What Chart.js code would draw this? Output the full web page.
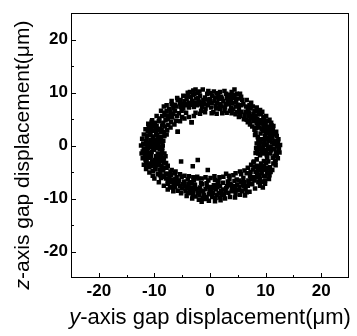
<!DOCTYPE html>
<html><head><meta charset="utf-8">
<script src="https://cdn.jsdelivr.net/npm/chart.js@4/dist/chart.umd.min.js"></script>
<style>html,body{margin:0;padding:0;background:#fff}</style>
</head><body>
<canvas id="c" width="357" height="336"></canvas>
<script>
// y-axis gap (x) and z-axis gap (y) readings, grouped by sector of the orbit
const ringRight = [[12.3,-0.8],[11.9,0.5],[11.6,-1.9],[11.2,1.4],[10.9,-0.2],[10.5,0.9],[10.1,-1.2],[9.6,0.3],[9.2,-0.6],[8.7,0.8],[11.8,-2.8],[12.0,1.8],[10.7,2.2],[9.9,1.9],[9.0,-1.8],[8.5,-0.9],[10.3,-2.4],[11.4,-3.4],[12.1,-0.1],[9.4,1.2],[10.8,-1.5],[11.5,0.2],[8.9,0.1],[9.7,-2.9],
  [11.7,0.9],[10.4,-0.5],[9.8,0.6],[11.0,-0.9],[12.2,0.8],[10.0,1.3],[11.3,-2.3],[9.3,-1.1],[10.6,1.5],[8.8,-0.3],[11.9,-1.3],[10.2,-1.8],
  [11.1,0.6],[10.2,0.1],[9.5,-0.4],[12.4,-0.5],[11.5,-0.7],[10.7,-0.6],[9.9,-0.9],[11.3,2.1],[10.1,2.4],[12.0,-1.7],[9.1,0.7],[10.5,-3.0],[11.8,-3.7],[8.7,-1.5],[10.9,1.1],[9.6,-1.5],
  [8.4,0.4],[8.3,-0.5],[8.6,1.6],[8.2,-1.4],[8.1,2.0],[8.4,-2.6],[7.9,-3.0],
  [12.6,0.1],[12.5,-1.3],[12.3,1.2],[12.2,-2.4],[11.9,2.6],[11.7,-3.1]];
const ringUpperRight = [[11.3,2.9],[10.6,3.6],[10.0,4.1],[9.5,2.8],[8.8,3.4],[8.2,2.4],[11.0,4.3],[9.2,4.8],[8.4,4.2],[10.2,2.7],[9.8,5.2],[8.0,3.0],[10.9,3.2],[7.8,4.6],
  [10.4,3.2],[9.6,3.6],[10.8,2.5],[9.1,2.3],[8.6,3.8],[11.5,2.4],[9.9,4.6],
  [9.6,5.4],[8.8,6.0],[8.0,6.5],[7.4,5.2],[6.8,6.9],[6.2,5.8],[7.7,7.4],[8.5,5.1],[6.0,7.8],[5.6,6.4],[7.1,4.6],[5.2,5.4],[9.0,6.7],[6.6,4.9],
  [8.2,5.7],[7.8,6.0],[7.0,6.2],[9.2,5.9],[8.3,4.7],[6.4,6.4],[7.3,7.0],
  [10.5,4.6],[9.3,3.2],[8.9,4.5],[10.0,3.4],[11.1,3.8],[8.3,3.3],[7.6,5.6],[8.6,6.6],[7.1,7.6],[6.5,7.4],[6.9,5.6],[9.4,4.2],[7.9,5.3],
  [7.6,3.6],[7.2,4.0],[6.8,4.4],[6.1,5.0],[5.4,5.6],[4.6,5.9],[3.9,6.1],
  [11.4,3.7],[10.7,4.9],[10.1,5.6],[9.4,6.4],[8.4,7.2],[7.4,8.1],[6.6,8.6]];
const ringTop = [[5.8,8.6],[5.0,7.7],[4.4,9.0],[3.8,7.2],[3.2,8.4],[2.6,6.6],[4.9,6.3],[3.5,9.6],[2.8,7.8],[4.2,6.8],[5.4,9.8],[4.4,10.6],[2.0,9.2],[3.0,6.2],
  [4.7,8.2],[4.0,8.0],[3.4,7.8],[5.2,7.1],[2.4,8.4],[3.8,8.8],[5.6,7.6],
  [1.6,8.8],[1.0,7.5],[0.4,9.4],[-0.2,8.2],[-0.8,7.0],[0.6,6.3],[1.8,6.9],[-0.5,9.8],[0.0,8.8],[1.2,9.9],[2.6,10.3],[-1.3,10.6],[1.3,8.1],[-1.2,8.6],[0.2,7.2],
  [0.8,8.4],[1.9,7.8],[-0.4,7.6],[0.3,8.1],[1.5,9.3],[-0.9,9.1],[2.2,8.9],
  [-1.8,9.4],[-2.3,7.6],[-2.8,9.8],[-3.2,8.4],[-1.6,6.6],[-3.6,10.1],[-2.6,6.2],[-3.8,7.2],[-2.0,8.3],[-4.1,9.3],[-3.0,10.4],[-1.4,7.3],
  [-2.5,8.9],[-1.9,7.8],[-3.4,9.2],[-2.9,7.3],[-3.8,8.1],[-2.2,10.0],
  [4.6,7.4],[3.6,6.6],[3.1,9.0],[2.7,7.2],[4.1,9.5],[5.0,8.9],[1.1,7.0],[0.1,9.9],[-0.6,8.7],[1.7,7.3],[0.9,9.1],[2.0,7.4],[-1.0,7.9],[-2.1,9.0],[-2.7,8.1],[-3.1,9.6],[-1.5,8.1],[-3.3,7.7],
  [2.2,6.1],[1.2,6.0],[0.3,6.1],[-0.9,6.3],[-1.8,6.0],[-2.9,5.6],[-3.8,5.4],
  [5.6,9.2],[4.8,9.8],[3.9,10.1],[2.9,9.8],[1.8,10.1],[0.7,10.2],[-0.3,10.3],[-1.9,10.2],[-2.6,10.6],[-4.0,10.0]];
const ringUpperLeft = [[-4.6,8.4],[-5.2,7.3],[-5.8,8.6],[-4.3,6.2],[-6.3,6.6],[-6.9,7.8],[-5.0,5.4],[-7.3,5.6],[-6.1,4.7],[-7.8,6.5],[-8.3,7.4],[-4.8,7.0],[-5.6,6.1],[-7.0,4.4],[-8.0,4.8],[-6.6,7.1],[-3.3,4.4],[-5.8,2.6],[-4.0,7.8],
  [-5.4,8.0],[-6.0,7.4],[-6.6,6.0],[-7.4,6.9],[-5.1,6.6],[-7.6,5.0],[-6.8,5.3],[-4.5,7.6],[-8.6,5.6],
  [-8.6,3.8],[-9.2,4.6],[-9.8,3.1],[-10.4,3.9],[-8.3,2.6],[-11.0,3.3],[-9.5,2.0],[-10.7,2.4],[-8.8,1.6],[-9.9,4.3],[-11.3,1.9],[-8.1,3.6],[-10.2,1.4],[-7.8,2.1],
  [-9.0,3.2],[-9.6,3.7],[-10.1,2.8],[-8.9,2.5],[-10.6,3.1],[-9.3,1.4],[-8.4,4.3],
  [-4.2,8.8],[-4.9,7.8],[-5.3,8.6],[-6.3,7.7],[-7.1,6.3],[-7.9,5.7],[-5.9,5.6],[-8.2,6.2],[-9.1,5.1],[-9.4,3.0],[-10.0,3.6],[-10.8,2.0],[-8.7,3.0],[-9.7,2.4],[-10.5,4.5],[-11.2,2.7],
  [-4.6,5.1],[-5.4,4.6],[-6.4,4.0],[-7.1,3.4],[-7.7,2.9],[-8.2,1.8],[-7.5,3.9],
  [-4.8,9.4],[-5.9,9.0],[-6.9,8.4],[-7.8,7.6],[-8.8,6.6],[-9.6,5.6],[-10.4,4.8],[-11.1,4.1],[-11.6,3.1]];
const ringLeft = [[-11.9,-0.6],[-11.5,0.8],[-11.0,-1.4],[-10.6,0.3],[-10.1,-0.8],[-9.6,1.1],[-9.2,-0.2],[-8.7,0.6],[-11.7,-1.9],[-10.3,1.7],[-9.4,-1.5],[-8.6,-1.0],[-11.2,0.1],[-10.0,0.7],[-12.0,0.4],[-8.9,1.5],[-10.8,-2.3],[-9.7,-2.0],
  [-11.1,-0.4],[-10.4,-0.2],[-9.9,0.2],[-11.4,1.2],[-10.7,1.0],[-9.0,-0.7],[-11.6,-1.1],[-10.5,-1.2],[-9.4,0.5],[-8.5,0.0],
  [-11.4,-2.9],[-10.7,-3.4],[-10.0,-2.7],[-9.4,-3.6],[-8.6,-2.4],[-10.9,-4.1],[-9.1,-4.5],[-8.3,-3.2],[-10.3,-4.8],[-8.0,-2.0],[-11.1,-3.7],[-9.7,-3.1],
  [-10.4,-3.0],[-9.8,-3.9],[-9.0,-2.8],[-10.1,-3.5],[-8.7,-3.8],[-11.0,-2.2],[-9.3,-2.2],
  [-11.8,0.2],[-11.3,-0.6],[-10.9,0.5],[-10.2,-0.4],[-9.7,-0.5],[-9.1,0.9],[-11.5,-1.6],[-10.3,1.0],[-8.8,-1.8],[-12.1,-1.1],[-10.6,-2.0],[-11.6,-2.6],[-9.6,-2.6],[-10.5,-3.8],[-9.2,-3.1],[-11.5,-3.3],[-8.4,-2.9],[-9.9,-4.5],
  [-8.4,0.9],[-8.6,-0.4],[-8.2,-1.5],[-8.3,-2.4],[-7.9,-3.3],[-7.6,-3.8],[-8.1,-4.2],
  [-11.9,2.1],[-12.2,1.3],[-12.4,0.0],[-12.3,-1.5],[-12.1,-2.4],[-11.9,-3.6],[-11.5,-4.4]];
const ringLowerLeft = [[-9.4,-5.4],[-8.8,-6.1],[-8.0,-5.3],[-7.6,-6.7],[-7.0,-5.5],[-6.5,-7.3],[-6.0,-6.0],[-5.4,-7.6],[-5.1,-5.9],[-7.2,-7.8],[-8.4,-4.6],[-6.2,-4.9],[-5.8,-8.5],[-7.8,-4.2],[-10.3,-5.7],[-7.0,-7.9],[-4.7,-6.8],[-6.8,-6.4],
  [-8.5,-5.8],[-7.9,-6.2],[-7.3,-6.1],[-6.6,-6.8],[-8.9,-5.0],[-6.1,-7.0],[-7.5,-5.3],[-5.6,-6.6],
  [-4.4,-8.6],[-3.9,-7.3],[-3.4,-9.0],[-2.9,-6.6],[-2.4,-8.2],[-1.9,-9.3],[-3.2,-7.9],[-4.0,-6.4],[-1.6,-7.1],[-2.6,-9.6],[-3.6,-8.5],[-2.1,-6.2],
  [-3.8,-8.0],[-3.0,-8.6],[-2.7,-7.4],[-4.6,-7.7],[-2.2,-8.9],[-3.6,-6.9],
  [-9.0,-5.6],[-8.2,-5.9],[-7.6,-7.2],[-6.9,-6.9],[-6.3,-7.8],[-5.7,-7.2],[-4.9,-7.3],[-7.1,-5.0],[-8.6,-4.3],[-5.0,-8.1],[-4.2,-7.9],[-3.3,-7.1],[-2.6,-8.2],[-1.8,-7.9],[-4.0,-8.9],[-3.1,-9.3],[-6.2,-6.3],
  [-6.9,-4.6],[-6.3,-5.2],[-5.4,-5.4],[-4.6,-5.7],[-3.8,-5.8],[-3.0,-6.0],[-2.3,-5.9],
  [-10.9,-5.1],[-10.0,-6.2],[-9.2,-6.9],[-8.3,-7.6],[-7.6,-8.3],[-6.6,-8.6],[-5.2,-9.0],[-4.2,-9.5],[-3.2,-10.0]];
const ringBottom = [[-1.2,-8.6],[-0.6,-9.7],[0.0,-7.8],[0.5,-8.9],[1.0,-9.9],[1.4,-7.2],[2.0,-8.5],[2.5,-9.4],[-0.3,-6.6],[0.9,-6.5],[2.3,-7.0],[-0.9,-10.1],[1.8,-9.8],[0.3,-9.3],[-1.4,-7.3],[2.9,-8.0],
  [-0.8,-8.2],[0.2,-8.5],[1.1,-8.3],[1.6,-9.0],[-0.2,-9.1],[0.7,-7.5],[2.4,-8.3],[1.3,-7.8],[-1.7,-8.5],
  [-0.5,-7.8],[0.4,-9.7],[1.2,-9.3],[2.1,-9.2],[-1.1,-9.4],[0.0,-8.4],[1.8,-7.6],[2.8,-8.6],[0.6,-8.1],[-0.6,-7.1],[1.5,-6.7],[-1.3,-9.9],
  [-1.5,-6.2],[-0.8,-6.0],[0.1,-6.1],[0.8,-5.8],[1.7,-6.0],[2.4,-5.9],[3.4,-5.7],
  [-2.0,-10.2],[-1.5,-10.6],[-0.2,-10.4],[0.9,-10.5],[1.9,-10.3],[2.7,-10.0],[3.6,-9.7]];
const ringLowerRight = [[3.3,-8.9],[3.8,-7.5],[4.3,-8.4],[4.8,-6.4],[5.3,-7.8],[5.8,-8.6],[6.2,-6.9],[6.8,-7.6],[7.2,-5.8],[4.2,-5.6],[5.6,-5.4],[7.6,-7.3],[3.5,-6.3],[6.6,-8.8],[2.9,-5.3],[4.6,-9.2],
  [4.0,-8.0],[4.9,-7.4],[5.6,-6.9],[6.1,-7.7],[3.6,-7.2],[6.9,-6.6],[5.0,-8.4],[7.4,-6.4],
  [8.0,-6.6],[8.5,-5.2],[9.0,-6.3],[9.5,-4.6],[10.0,-5.8],[10.4,-4.2],[8.4,-3.8],[9.2,-3.4],[10.6,-6.3],[9.5,-7.9],[7.7,-4.5],[10.9,-5.0],[8.7,-6.9],[10.1,-3.3],[9.9,-7.2],
  [8.8,-5.6],[9.3,-5.2],[8.2,-5.0],[9.8,-4.3],[8.6,-4.4],[10.3,-5.2],[9.0,-4.0],
  [3.1,-7.7],[3.9,-8.6],[4.5,-7.7],[5.2,-6.6],[5.9,-7.4],[6.4,-8.2],[7.0,-7.2],[7.8,-6.0],[4.4,-6.7],[6.0,-6.1],[3.2,-6.8],[8.3,-6.0],[8.9,-4.7],[9.6,-5.7],[10.2,-4.6],[10.8,-4.1],[8.0,-4.1],[9.4,-6.8],[7.3,-5.0],[9.7,-3.8],
  [4.6,-5.2],[5.4,-4.9],[6.2,-4.7],[6.8,-4.2],[7.4,-3.6],[7.8,-3.2],[6.6,-5.2],
  [4.5,-9.8],[5.4,-9.3],[6.3,-9.4],[7.1,-8.7],[8.1,-8.1],[9.0,-7.6],[9.9,-6.6],[10.7,-5.6],[11.2,-4.6]];
const strayInside = [[-5.2,-3.0],[-2.2,-2.7],[-3.1,-3.9],[-0.4,-4.6],[-5.8,2.6],[-3.3,4.4]];

const tickValues = [-20, -10, 0, 10, 20];
const tickMarks = [-20, -15, -10, -5, 0, 5, 10, 15, 20];
const xTitle = ['y', '-axis gap displacement(\u03bcm)'];
const yTitle = ['z', '-axis gap displacement(\u03bcm)'];

const points = [].concat(ringRight, ringUpperRight, ringTop, ringUpperLeft, ringLeft, ringLowerLeft, ringBottom, ringLowerRight, strayInside)
  .map(p => ({x: p[0], y: p[1]}));

const FAMILY = '"Liberation Sans", Arial, Helvetica, sans-serif';

function drawTitle(ctx, parts, size) {
  ctx.font = 'italic ' + size + 'px ' + FAMILY;
  const w0 = ctx.measureText(parts[0]).width;
  ctx.font = size + 'px ' + FAMILY;
  const w1 = ctx.measureText(parts[1]).width;
  const start = -(w0 + w1) / 2;
  ctx.textBaseline = 'middle';
  ctx.textAlign = 'left';
  ctx.font = 'italic ' + size + 'px ' + FAMILY;
  ctx.fillText(parts[0], start, 0);
  ctx.font = size + 'px ' + FAMILY;
  ctx.fillText(parts[1], start + w0, 0);
}

const framePlugin = {
  id: 'frame',
  afterDraw(chart) {
    const {ctx, chartArea: a, scales} = chart;
    ctx.save();
    ctx.strokeStyle = '#000';
    ctx.lineWidth = 1;
    ctx.strokeRect(Math.round(a.left) + 0.5, Math.round(a.top) + 0.5, Math.round(a.right - a.left) - 1, Math.round(a.bottom - a.top) - 1);
    ctx.beginPath();
    tickMarks.forEach(v => {
      const len = v % 10 === 0 ? 5 : 3;
      const px = Math.round(scales.x.getPixelForValue(v)) + 0.5;
      ctx.moveTo(px, a.bottom);
      ctx.lineTo(px, a.bottom - len);
      const py = Math.round(scales.y.getPixelForValue(v)) + 0.5;
      ctx.moveTo(a.left, py);
      ctx.lineTo(a.left + len, py);
    });
    ctx.stroke();
    ctx.fillStyle = '#000';
    ctx.save();
    ctx.translate((a.left + a.right) / 2, 318);
    drawTitle(ctx, xTitle, 22);
    ctx.restore();
    ctx.save();
    ctx.translate(23, 155);
    ctx.rotate(-Math.PI / 2);
    drawTitle(ctx, yTitle, 21);
    ctx.restore();
    ctx.restore();
  }
};

const tickFont = {family: FAMILY, size: 17, weight: 'bold'};

new Chart(document.getElementById('c'), {
  type: 'scatter',
  data: {datasets: [{data: points, pointStyle: 'rect', pointRadius: 3.2, backgroundColor: '#000', borderWidth: 0}]},
  options: {
    responsive: false,
    animation: false,
    events: [],
    layout: {padding: {top: 7, right: 8, left: 0, bottom: 0}},
    plugins: {legend: {display: false}, tooltip: {enabled: false}},
    scales: {
      x: {
        type: 'linear', position: 'bottom', min: -25, max: 25,
        afterBuildTicks: s => { s.ticks = tickValues.map(v => ({value: v})); },
        afterFit: s => { s.height = 58; },
        grid: {display: false, drawTicks: false},
        border: {display: false},
        ticks: {padding: 3, color: '#000', font: tickFont, maxRotation: 0, autoSkip: false}
      },
      y: {
        type: 'linear', position: 'left', min: -25, max: 25,
        afterBuildTicks: s => { s.ticks = tickValues.map(v => ({value: v})); },
        afterFit: s => { s.width = 71; },
        grid: {display: false, drawTicks: false},
        border: {display: false},
        ticks: {padding: 3, color: '#000', font: tickFont, autoSkip: false}
      }
    }
  },
  plugins: [framePlugin]
});
</script>
</body></html>
